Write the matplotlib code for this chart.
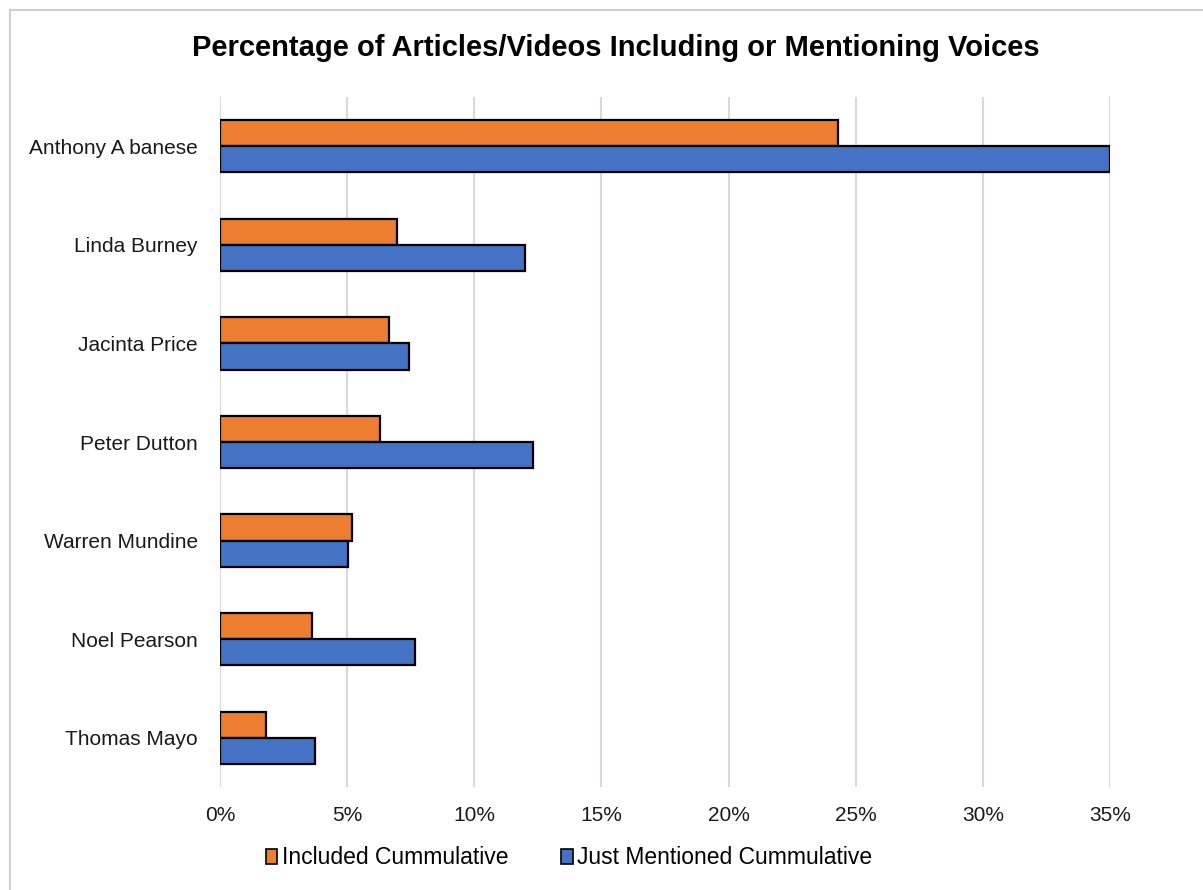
import numpy as np
import matplotlib.pyplot as plt
from matplotlib.lines import Line2D
from matplotlib.ticker import FuncFormatter

plt.rcParams['font.family'] = ['Liberation Sans', 'DejaVu Sans']

# Share of articles/videos per voice (percent)
names = ['Anthony A banese', 'Linda Burney', 'Jacinta Price', 'Peter Dutton',
         'Warren Mundine', 'Noel Pearson', 'Thomas Mayo']
included = [24.3, 6.95, 6.65, 6.3, 5.2, 3.6, 1.8]
mentioned = [35.0, 12.0, 7.45, 12.3, 5.05, 7.65, 3.75]

orange = '#ED7D31'
blue = '#4472C4'

fig = plt.figure(figsize=(12.03, 8.9), dpi=100)
ax = fig.add_axes([0.1829, 0.1157, 0.7398, 0.7753])

y = np.arange(len(names))
h = 0.265
ax.barh(y - h / 2, included, height=h, color=orange, edgecolor='black',
        linewidth=1.6, label='Included Cummulative', zorder=3)
ax.barh(y + h / 2, mentioned, height=h, color=blue, edgecolor='black',
        linewidth=1.6, label='Just Mentioned Cummulative', zorder=3)

ax.set_ylim(len(names) - 0.5, -0.5)
ax.set_xlim(0, 35)
ax.set_xticks(np.arange(0, 36, 5))
ax.xaxis.set_major_formatter(FuncFormatter(lambda v, _: f'{v:.0f}%'))
ax.set_yticks(y)
ax.set_yticklabels(names)
ax.tick_params(axis='both', length=0, labelsize=15, colors='#1a1a1a')
ax.tick_params(axis='x', pad=14)
ax.tick_params(axis='y', pad=16)
ax.grid(axis='x', color='#D9D9D9', linewidth=1.5, zorder=0)
for s in ax.spines.values():
    s.set_visible(False)

fig.text(0.512, 0.946, 'Percentage of Articles/Videos Including or Mentioning Voices',
         ha='center', va='center', fontsize=21, fontweight='bold')

handles = [plt.Rectangle((0, 0), 1, 1, facecolor=orange, edgecolor='black', linewidth=1.2),
           plt.Rectangle((0, 0), 1, 1, facecolor=blue, edgecolor='black', linewidth=1.2)]
fig.legend(handles, ['Included Cummulative', 'Just Mentioned Cummulative'],
           loc='center', bbox_to_anchor=(0.473, 0.036), ncol=2, frameon=False,
           fontsize=16.5, handlelength=0.5, handleheight=0.6, handletextpad=0.2,
           columnspacing=2.3)

# light frame around the chart area
fig.add_artist(Line2D([10 / 1203, 1], [1 - 10 / 890, 1 - 10 / 890],
                      transform=fig.transFigure, color='#D0D0D0', linewidth=1.5))
fig.add_artist(Line2D([10 / 1203, 10 / 1203], [0, 1 - 10 / 890],
                      transform=fig.transFigure, color='#D0D0D0', linewidth=1.5))

fig.savefig('out.png', dpi=100, facecolor='white')
